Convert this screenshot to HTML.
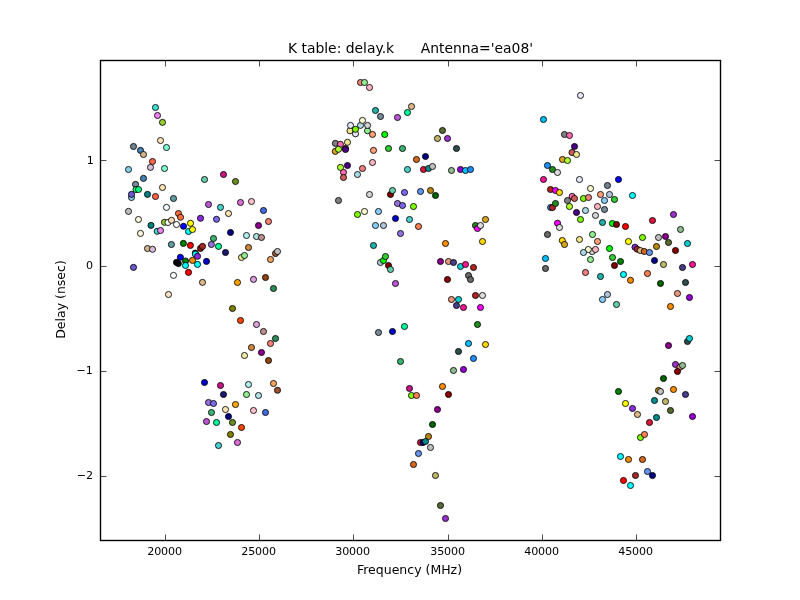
<!DOCTYPE html><html><head><meta charset="utf-8"><title>K table</title><style>html,body{margin:0;padding:0;background:#fff}svg{display:block}text{font-family:"DejaVu Sans","Liberation Sans",sans-serif;fill:#000}</style></head><body>
<svg width="800" height="600" viewBox="0 0 800 600">
<rect x="0" y="0" width="800" height="600" fill="#fff"/>
<g stroke="#000" stroke-width="0.85">
<circle cx="155.5" cy="107.5" r="3.05" fill="#40E0D0"/>
<circle cx="157.5" cy="115.5" r="3.05" fill="#EE82EE"/>
<circle cx="162.5" cy="122.4" r="3.05" fill="#9ACD32"/>
<circle cx="160.5" cy="140.5" r="3.05" fill="#FFE4B5"/>
<circle cx="166.5" cy="147.5" r="3.05" fill="#7FFFD4"/>
<circle cx="133.5" cy="146.5" r="3.05" fill="#708090"/>
<circle cx="140.5" cy="150.4" r="3.05" fill="#4682B4"/>
<circle cx="143.5" cy="154.5" r="3.05" fill="#D2B48C"/>
<circle cx="152.5" cy="161.5" r="3.05" fill="#FF6347"/>
<circle cx="128.5" cy="169.5" r="3.05" fill="#87CEEB"/>
<circle cx="150.5" cy="167.4" r="3.05" fill="#D8BFD8"/>
<circle cx="164.5" cy="168.5" r="3.05" fill="#7FFFD4"/>
<circle cx="143.5" cy="178.4" r="3.05" fill="#4682B4"/>
<circle cx="135.5" cy="184.4" r="3.05" fill="#778899"/>
<circle cx="136.0" cy="189.5" r="3.05" fill="#00FF7F"/>
<circle cx="138.5" cy="189.5" r="3.05" fill="#00FF7F"/>
<circle cx="162.5" cy="187.5" r="3.05" fill="#FFE4B5"/>
<circle cx="147.5" cy="194.4" r="3.05" fill="#008080"/>
<circle cx="131.5" cy="197.5" r="3.05" fill="#87CEEB"/>
<circle cx="131.5" cy="194.4" r="3.05" fill="#6A5ACD"/>
<circle cx="155.5" cy="196.5" r="3.05" fill="#FF6347"/>
<circle cx="173.5" cy="198.5" r="3.05" fill="#5F9EA0"/>
<circle cx="166.5" cy="207.4" r="3.05" fill="#F0FFFF"/>
<circle cx="204.5" cy="179.5" r="3.05" fill="#66CDAA"/>
<circle cx="223.5" cy="174.5" r="3.05" fill="#C71585"/>
<circle cx="235.5" cy="181.5" r="3.05" fill="#6B8E23"/>
<circle cx="208.5" cy="204.5" r="3.05" fill="#BA55D3"/>
<circle cx="220.5" cy="207.4" r="3.05" fill="#48D1CC"/>
<circle cx="240.5" cy="202.5" r="3.05" fill="#DA70D6"/>
<circle cx="251.5" cy="201.5" r="3.05" fill="#FFC0CB"/>
<circle cx="128.5" cy="211.4" r="3.05" fill="#C0C0C0"/>
<circle cx="138.5" cy="219.5" r="3.05" fill="#FFF8DC"/>
<circle cx="140.5" cy="233.4" r="3.05" fill="#FFF8DC"/>
<circle cx="151.0" cy="225.4" r="3.05" fill="#008080"/>
<circle cx="178.5" cy="213.5" r="3.05" fill="#FF7040"/>
<circle cx="180.5" cy="217.3" r="3.05" fill="#FF7040"/>
<circle cx="164.5" cy="222.3" r="3.05" fill="#9ACD32"/>
<circle cx="168.0" cy="222.5" r="3.05" fill="#F0FFFF"/>
<circle cx="171.5" cy="220.3" r="3.05" fill="#FFDAB9"/>
<circle cx="176.5" cy="224.5" r="3.05" fill="#FFFFFF"/>
<circle cx="183.5" cy="226.3" r="3.05" fill="#0000FF"/>
<circle cx="190.5" cy="223.3" r="3.05" fill="#FFFF00"/>
<circle cx="188.5" cy="231.5" r="3.05" fill="#00FFFF"/>
<circle cx="192.5" cy="229.5" r="3.05" fill="#FFFF00"/>
<circle cx="157.2" cy="231.3" r="3.05" fill="#40E0D0"/>
<circle cx="160.5" cy="230.5" r="3.05" fill="#EE82EE"/>
<circle cx="200.5" cy="218.3" r="3.05" fill="#8A2BE2"/>
<circle cx="216.5" cy="219.3" r="3.05" fill="#7B68EE"/>
<circle cx="228.5" cy="213.5" r="3.05" fill="#FFE4B5"/>
<circle cx="258.5" cy="225.5" r="3.05" fill="#8B008B"/>
<circle cx="230.5" cy="232.5" r="3.05" fill="#000080"/>
<circle cx="246.5" cy="235.5" r="3.05" fill="#AFEEEE"/>
<circle cx="256.5" cy="236.5" r="3.05" fill="#B0E0E6"/>
<circle cx="213.5" cy="238.5" r="3.05" fill="#3CB371"/>
<circle cx="211.4" cy="244.5" r="3.05" fill="#9370DB"/>
<circle cx="218.5" cy="246.4" r="3.05" fill="#00FA9A"/>
<circle cx="225.5" cy="252.5" r="3.05" fill="#191970"/>
<circle cx="248.5" cy="247.5" r="3.05" fill="#CD853F"/>
<circle cx="241.5" cy="257.5" r="3.05" fill="#F0E68C"/>
<circle cx="244.5" cy="255.5" r="3.05" fill="#90EE90"/>
<circle cx="171.4" cy="244.5" r="3.05" fill="#5F9EA0"/>
<circle cx="183.4" cy="243.4" r="3.05" fill="#008000"/>
<circle cx="190.4" cy="245.4" r="3.05" fill="#FF0000"/>
<circle cx="200.5" cy="248.4" r="3.05" fill="#8B1A1A"/>
<circle cx="202.5" cy="246.4" r="3.05" fill="#A52A2A"/>
<circle cx="147.5" cy="248.5" r="3.05" fill="#D2B48C"/>
<circle cx="152.5" cy="249.3" r="3.05" fill="#D8BFD8"/>
<circle cx="195.3" cy="253.1" r="3.05" fill="#3B2500"/>
<circle cx="195.4" cy="254.1" r="3.05" fill="#00FFFF"/>
<circle cx="197.5" cy="256.3" r="3.05" fill="#8A2BE2"/>
<circle cx="180.4" cy="257.3" r="3.05" fill="#0000FF"/>
<circle cx="185.5" cy="261.0" r="3.05" fill="#008000"/>
<circle cx="192.5" cy="260.4" r="3.05" fill="#FF8C00"/>
<circle cx="176.5" cy="262.4" r="3.05" fill="#000000"/>
<circle cx="178.4" cy="263.6" r="3.05" fill="#000000"/>
<circle cx="185.5" cy="265.5" r="3.05" fill="#00FFFF"/>
<circle cx="197.5" cy="264.4" r="3.05" fill="#00FFFF"/>
<circle cx="206.5" cy="261.4" r="3.05" fill="#0000CD"/>
<circle cx="188.5" cy="272.4" r="3.05" fill="#FF0000"/>
<circle cx="173.5" cy="275.4" r="3.05" fill="#FFFFFF"/>
<circle cx="202.5" cy="282.4" r="3.05" fill="#DEB887"/>
<circle cx="133.5" cy="267.4" r="3.05" fill="#6A5ACD"/>
<circle cx="168.5" cy="294.5" r="3.05" fill="#FFE4C4"/>
<circle cx="237.5" cy="282.5" r="3.05" fill="#FFA500"/>
<circle cx="253.5" cy="279.4" r="3.05" fill="#DDA0DD"/>
<circle cx="232.5" cy="308.5" r="3.05" fill="#808000"/>
<circle cx="263.5" cy="210.5" r="3.05" fill="#4169E1"/>
<circle cx="268.5" cy="221.5" r="3.05" fill="#FA8072"/>
<circle cx="261.5" cy="237.5" r="3.05" fill="#BC8F8F"/>
<circle cx="275.5" cy="253.5" r="3.05" fill="#A0522D"/>
<circle cx="277.5" cy="251.5" r="3.05" fill="#C0C0C0"/>
<circle cx="270.5" cy="259.5" r="3.05" fill="#F4A460"/>
<circle cx="265.5" cy="277.5" r="3.05" fill="#8B4513"/>
<circle cx="338.5" cy="200.5" r="3.05" fill="#808080"/>
<circle cx="343.5" cy="172.4" r="3.05" fill="#FF69B4"/>
<circle cx="340.5" cy="167.4" r="3.05" fill="#ADFF2F"/>
<circle cx="347.5" cy="165.5" r="3.05" fill="#4B0082"/>
<circle cx="343.5" cy="177.5" r="3.05" fill="#CD5C5C"/>
<circle cx="273.5" cy="288.5" r="3.05" fill="#2E8B57"/>
<circle cx="240.5" cy="320.5" r="3.05" fill="#FF4500"/>
<circle cx="256.5" cy="324.5" r="3.05" fill="#DDA0DD"/>
<circle cx="263.5" cy="331.5" r="3.05" fill="#BC8F8F"/>
<circle cx="275.5" cy="338.5" r="3.05" fill="#2E8B57"/>
<circle cx="270.5" cy="343.5" r="3.05" fill="#FA8072"/>
<circle cx="251.5" cy="347.5" r="3.05" fill="#CD853F"/>
<circle cx="261.5" cy="352.5" r="3.05" fill="#8B008B"/>
<circle cx="244.5" cy="355.5" r="3.05" fill="#EEE8AA"/>
<circle cx="268.5" cy="360.5" r="3.05" fill="#8B4513"/>
<circle cx="204.5" cy="382.5" r="3.05" fill="#0000CD"/>
<circle cx="220.5" cy="385.5" r="3.05" fill="#C71585"/>
<circle cx="248.5" cy="384.5" r="3.05" fill="#AFEEEE"/>
<circle cx="273.5" cy="383.5" r="3.05" fill="#F4A460"/>
<circle cx="277.5" cy="390.3" r="3.05" fill="#A0522D"/>
<circle cx="223.5" cy="394.5" r="3.05" fill="#191970"/>
<circle cx="246.5" cy="394.5" r="3.05" fill="#90EE90"/>
<circle cx="258.5" cy="395.5" r="3.05" fill="#B0E0E6"/>
<circle cx="208.5" cy="402.5" r="3.05" fill="#9370DB"/>
<circle cx="213.5" cy="403.5" r="3.05" fill="#7B68EE"/>
<circle cx="235.5" cy="404.5" r="3.05" fill="#FFA500"/>
<circle cx="225.5" cy="409.5" r="3.05" fill="#FFE4B5"/>
<circle cx="253.5" cy="410.5" r="3.05" fill="#FFC0CB"/>
<circle cx="265.5" cy="412.5" r="3.05" fill="#4169E1"/>
<circle cx="211.5" cy="412.5" r="3.05" fill="#3CB371"/>
<circle cx="228.5" cy="416.5" r="3.05" fill="#000080"/>
<circle cx="206.5" cy="421.5" r="3.05" fill="#BA55D3"/>
<circle cx="216.5" cy="422.5" r="3.05" fill="#00FA9A"/>
<circle cx="232.5" cy="422.5" r="3.05" fill="#6B8E23"/>
<circle cx="241.5" cy="427.5" r="3.05" fill="#FF4500"/>
<circle cx="230.5" cy="434.5" r="3.05" fill="#808000"/>
<circle cx="237.5" cy="442.5" r="3.05" fill="#DA70D6"/>
<circle cx="218.5" cy="445.5" r="3.05" fill="#48D1CC"/>
<circle cx="360.5" cy="82.5" r="3.05" fill="#F08080"/>
<circle cx="364.5" cy="82.5" r="3.05" fill="#90EE90"/>
<circle cx="369.5" cy="87.5" r="3.05" fill="#FFB6C1"/>
<circle cx="411.5" cy="106.5" r="3.05" fill="#DEB887"/>
<circle cx="407.5" cy="112.5" r="3.05" fill="#00FA9A"/>
<circle cx="375.5" cy="110.5" r="3.05" fill="#20B2AA"/>
<circle cx="380.5" cy="116.5" r="3.05" fill="#778899"/>
<circle cx="397.5" cy="117.5" r="3.05" fill="#BA55D3"/>
<circle cx="384.7" cy="134.5" r="3.05" fill="#00FF00"/>
<circle cx="388.5" cy="148.5" r="3.05" fill="#32CD32"/>
<circle cx="402.5" cy="148.5" r="3.05" fill="#3CB371"/>
<circle cx="373.5" cy="150.4" r="3.05" fill="#FFA07A"/>
<circle cx="372.5" cy="162.5" r="3.05" fill="#FFB6C1"/>
<circle cx="362.5" cy="168.5" r="3.05" fill="#F08080"/>
<circle cx="357.5" cy="174.5" r="3.05" fill="#ADD8E6"/>
<circle cx="442.5" cy="130.5" r="3.05" fill="#556B2F"/>
<circle cx="437.5" cy="138.5" r="3.05" fill="#BDB76B"/>
<circle cx="447.5" cy="138.5" r="3.05" fill="#9932CC"/>
<circle cx="456.5" cy="148.5" r="3.05" fill="#2F4F4F"/>
<circle cx="425.5" cy="156.5" r="3.05" fill="#000080"/>
<circle cx="416.5" cy="159.5" r="3.05" fill="#D2691E"/>
<circle cx="407.5" cy="169.5" r="3.05" fill="#48D1CC"/>
<circle cx="423.5" cy="169.5" r="3.05" fill="#DC143C"/>
<circle cx="428.5" cy="168.5" r="3.05" fill="#008B8B"/>
<circle cx="432.5" cy="166.5" r="3.05" fill="#C0C0C0"/>
<circle cx="451.5" cy="170.5" r="3.05" fill="#8FBC8F"/>
<circle cx="460.5" cy="169.5" r="3.05" fill="#9400D3"/>
<circle cx="465.5" cy="170.5" r="3.05" fill="#00BFFF"/>
<circle cx="470.5" cy="169.5" r="3.05" fill="#1E90FF"/>
<circle cx="360.5" cy="125.4" r="3.05" fill="#ADD8E6"/>
<circle cx="362.5" cy="120.4" r="3.05" fill="#FAFAD2"/>
<circle cx="350.0" cy="130.8" r="3.05" fill="#F0E68C"/>
<circle cx="350.5" cy="125.4" r="3.05" fill="#E6E6FA"/>
<circle cx="367.5" cy="130.8" r="3.05" fill="#90EE90"/>
<circle cx="367.6" cy="125.4" r="3.05" fill="#D3D3D3"/>
<circle cx="355.5" cy="133.8" r="3.05" fill="#E6E6FA"/>
<circle cx="355.5" cy="129.3" r="3.05" fill="#7CFC00"/>
<circle cx="372.5" cy="134.4" r="3.05" fill="#FFA07A"/>
<circle cx="335.4" cy="143.4" r="3.05" fill="#808080"/>
<circle cx="340.4" cy="144.3" r="3.05" fill="#FF69B4"/>
<circle cx="347.5" cy="142.3" r="3.05" fill="#F0E68C"/>
<circle cx="345.5" cy="148.4" r="3.05" fill="#CD5C5C"/>
<circle cx="345.5" cy="149.5" r="3.05" fill="#4B0082"/>
<circle cx="335.3" cy="151.4" r="3.05" fill="#DAA520"/>
<circle cx="338.5" cy="149.3" r="3.05" fill="#ADFF2F"/>
<circle cx="369.5" cy="194.5" r="3.05" fill="#D3D3D3"/>
<circle cx="390.5" cy="194.5" r="3.05" fill="#800000"/>
<circle cx="392.5" cy="190.5" r="3.05" fill="#66CDAA"/>
<circle cx="404.5" cy="192.5" r="3.05" fill="#7B68EE"/>
<circle cx="420.5" cy="191.5" r="3.05" fill="#6495ED"/>
<circle cx="430.5" cy="190.5" r="3.05" fill="#B8860B"/>
<circle cx="435.5" cy="195.5" r="3.05" fill="#006400"/>
<circle cx="397.5" cy="203.5" r="3.05" fill="#9370DB"/>
<circle cx="402.5" cy="205.5" r="3.05" fill="#7B68EE"/>
<circle cx="413.5" cy="206.5" r="3.05" fill="#7FFF00"/>
<circle cx="357.5" cy="214.5" r="3.05" fill="#7CFC00"/>
<circle cx="364.5" cy="211.5" r="3.05" fill="#FAFAD2"/>
<circle cx="378.5" cy="211.5" r="3.05" fill="#87CEFA"/>
<circle cx="395.5" cy="218.5" r="3.05" fill="#0000CD"/>
<circle cx="409.5" cy="219.5" r="3.05" fill="#48D1CC"/>
<circle cx="418.5" cy="226.5" r="3.05" fill="#FF7F50"/>
<circle cx="375.5" cy="225.5" r="3.05" fill="#87CEFA"/>
<circle cx="383.5" cy="225.5" r="3.05" fill="#B0C4DE"/>
<circle cx="400.5" cy="233.5" r="3.05" fill="#9370DB"/>
<circle cx="373.5" cy="245.5" r="3.05" fill="#20B2AA"/>
<circle cx="445.5" cy="243.5" r="3.05" fill="#FF8C00"/>
<circle cx="380.5" cy="262.5" r="3.05" fill="#B0C4DE"/>
<circle cx="383.5" cy="260.5" r="3.05" fill="#00FF00"/>
<circle cx="385.5" cy="256.5" r="3.05" fill="#32CD32"/>
<circle cx="388.5" cy="265.5" r="3.05" fill="#800000"/>
<circle cx="390.5" cy="269.5" r="3.05" fill="#66CDAA"/>
<circle cx="440.5" cy="261.5" r="3.05" fill="#8B008B"/>
<circle cx="448.5" cy="261.5" r="3.05" fill="#E9967A"/>
<circle cx="453.5" cy="262.5" r="3.05" fill="#483D8B"/>
<circle cx="460.5" cy="266.5" r="3.05" fill="#00CED1"/>
<circle cx="465.5" cy="264.5" r="3.05" fill="#FF1493"/>
<circle cx="473.5" cy="267.5" r="3.05" fill="#B22222"/>
<circle cx="482.5" cy="241.5" r="3.05" fill="#FFD700"/>
<circle cx="395.5" cy="283.5" r="3.05" fill="#BA55D3"/>
<circle cx="447.5" cy="279.5" r="3.05" fill="#8B0000"/>
<circle cx="468.5" cy="275.5" r="3.05" fill="#696969"/>
<circle cx="470.5" cy="279.5" r="3.05" fill="#696969"/>
<circle cx="475.5" cy="295.5" r="3.05" fill="#B22222"/>
<circle cx="482.5" cy="295.5" r="3.05" fill="#DCDCDC"/>
<circle cx="451.5" cy="299.5" r="3.05" fill="#E9967A"/>
<circle cx="458.5" cy="299.5" r="3.05" fill="#00CED1"/>
<circle cx="456.5" cy="305.5" r="3.05" fill="#483D8B"/>
<circle cx="463.5" cy="307.5" r="3.05" fill="#FF1493"/>
<circle cx="480.5" cy="307.5" r="3.05" fill="#FF00FF"/>
<circle cx="477.5" cy="324.5" r="3.05" fill="#228B22"/>
<circle cx="404.5" cy="326.5" r="3.05" fill="#00FA9A"/>
<circle cx="392.5" cy="331.5" r="3.05" fill="#0000CD"/>
<circle cx="378.5" cy="332.5" r="3.05" fill="#778899"/>
<circle cx="468.5" cy="343.5" r="3.05" fill="#00BFFF"/>
<circle cx="485.5" cy="344.5" r="3.05" fill="#FFD700"/>
<circle cx="458.5" cy="351.5" r="3.05" fill="#2F4F4F"/>
<circle cx="473.5" cy="358.5" r="3.05" fill="#1E90FF"/>
<circle cx="400.5" cy="361.5" r="3.05" fill="#3CB371"/>
<circle cx="485.5" cy="219.5" r="3.05" fill="#DAA520"/>
<circle cx="475.5" cy="225.5" r="3.05" fill="#228B22"/>
<circle cx="477.5" cy="228.5" r="3.05" fill="#FF00FF"/>
<circle cx="480.5" cy="225.5" r="3.05" fill="#DCDCDC"/>
<circle cx="453.5" cy="370.5" r="3.05" fill="#8FBC8F"/>
<circle cx="463.5" cy="369.5" r="3.05" fill="#9400D3"/>
<circle cx="409.5" cy="388.5" r="3.05" fill="#C71585"/>
<circle cx="411.5" cy="395.5" r="3.05" fill="#7FFF00"/>
<circle cx="416.5" cy="395.5" r="3.05" fill="#FF7F50"/>
<circle cx="442.5" cy="386.5" r="3.05" fill="#FF8C00"/>
<circle cx="448.5" cy="394.5" r="3.05" fill="#8B0000"/>
<circle cx="437.5" cy="409.5" r="3.05" fill="#8B008B"/>
<circle cx="432.5" cy="424.5" r="3.05" fill="#006400"/>
<circle cx="428.5" cy="436.5" r="3.05" fill="#B8860B"/>
<circle cx="420.5" cy="442.5" r="3.05" fill="#DC143C"/>
<circle cx="423.0" cy="442.5" r="3.05" fill="#000080"/>
<circle cx="425.5" cy="441.5" r="3.05" fill="#008B8B"/>
<circle cx="430.5" cy="447.5" r="3.05" fill="#C0C0C0"/>
<circle cx="418.5" cy="453.5" r="3.05" fill="#6495ED"/>
<circle cx="413.5" cy="464.5" r="3.05" fill="#D2691E"/>
<circle cx="435.5" cy="475.5" r="3.05" fill="#BDB76B"/>
<circle cx="440.5" cy="505.5" r="3.05" fill="#556B2F"/>
<circle cx="445.5" cy="518.5" r="3.05" fill="#9932CC"/>
<circle cx="580.5" cy="95.5" r="3.05" fill="#E6E6FA"/>
<circle cx="543.5" cy="119.5" r="3.05" fill="#00BFFF"/>
<circle cx="564.5" cy="134.5" r="3.05" fill="#808080"/>
<circle cx="569.5" cy="135.5" r="3.05" fill="#FF69B4"/>
<circle cx="574.5" cy="146.5" r="3.05" fill="#4B0082"/>
<circle cx="572.0" cy="152.5" r="3.05" fill="#CD5C5C"/>
<circle cx="576.5" cy="154.5" r="3.05" fill="#F0E68C"/>
<circle cx="562.5" cy="159.5" r="3.05" fill="#DAA520"/>
<circle cx="567.5" cy="160.5" r="3.05" fill="#ADFF2F"/>
<circle cx="547.5" cy="165.5" r="3.05" fill="#1E90FF"/>
<circle cx="552.5" cy="169.5" r="3.05" fill="#228B22"/>
<circle cx="557.5" cy="172.5" r="3.05" fill="#DCDCDC"/>
<circle cx="543.5" cy="179.5" r="3.05" fill="#FF1493"/>
<circle cx="579.5" cy="179.5" r="3.05" fill="#E6E6FA"/>
<circle cx="618.5" cy="179.5" r="3.05" fill="#0000FF"/>
<circle cx="607.5" cy="185.5" r="3.05" fill="#708090"/>
<circle cx="590.5" cy="188.5" r="3.05" fill="#FAFAD2"/>
<circle cx="550.5" cy="189.5" r="3.05" fill="#B22222"/>
<circle cx="555.5" cy="190.5" r="3.05" fill="#FF00FF"/>
<circle cx="559.5" cy="192.5" r="3.05" fill="#FFD700"/>
<circle cx="632.5" cy="195.5" r="3.05" fill="#00FFFF"/>
<circle cx="600.5" cy="194.5" r="3.05" fill="#FFA07A"/>
<circle cx="609.5" cy="194.5" r="3.05" fill="#B0C4DE"/>
<circle cx="572.2" cy="196.4" r="3.05" fill="#FF69B4"/>
<circle cx="574.5" cy="198.5" r="3.05" fill="#CD5C5C"/>
<circle cx="567.5" cy="200.5" r="3.05" fill="#808080"/>
<circle cx="583.5" cy="198.5" r="3.05" fill="#7CFC00"/>
<circle cx="588.5" cy="197.5" r="3.05" fill="#F08080"/>
<circle cx="604.5" cy="200.5" r="3.05" fill="#87CEFA"/>
<circle cx="614.5" cy="199.5" r="3.05" fill="#32CD32"/>
<circle cx="550.6" cy="207.5" r="3.05" fill="#1E90FF"/>
<circle cx="552.5" cy="207.5" r="3.05" fill="#B22222"/>
<circle cx="555.5" cy="203.5" r="3.05" fill="#228B22"/>
<circle cx="569.5" cy="206.5" r="3.05" fill="#ADFF2F"/>
<circle cx="576.5" cy="212.5" r="3.05" fill="#4B0082"/>
<circle cx="585.5" cy="210.5" r="3.05" fill="#ADD8E6"/>
<circle cx="597.5" cy="206.5" r="3.05" fill="#FFB6C1"/>
<circle cx="604.5" cy="209.5" r="3.05" fill="#778899"/>
<circle cx="595.5" cy="215.5" r="3.05" fill="#D3D3D3"/>
<circle cx="580.5" cy="219.5" r="3.05" fill="#7CFC00"/>
<circle cx="602.5" cy="222.5" r="3.05" fill="#20B2AA"/>
<circle cx="612.4" cy="223.5" r="3.05" fill="#00FF00"/>
<circle cx="616.5" cy="224.5" r="3.05" fill="#800000"/>
<circle cx="557.5" cy="223.2" r="3.05" fill="#FF00FF"/>
<circle cx="559.5" cy="227.5" r="3.05" fill="#DCDCDC"/>
<circle cx="547.5" cy="234.5" r="3.05" fill="#696969"/>
<circle cx="592.5" cy="234.5" r="3.05" fill="#90EE90"/>
<circle cx="562.3" cy="240.5" r="3.05" fill="#FFD700"/>
<circle cx="564.5" cy="244.5" r="3.05" fill="#DAA520"/>
<circle cx="579.5" cy="239.5" r="3.05" fill="#F0E68C"/>
<circle cx="597.5" cy="241.5" r="3.05" fill="#FFA07A"/>
<circle cx="592.3" cy="251.6" r="3.05" fill="#D3D3D3"/>
<circle cx="588.3" cy="249.5" r="3.05" fill="#FAFAD2"/>
<circle cx="583.5" cy="252.5" r="3.05" fill="#ADD8E6"/>
<circle cx="595.5" cy="249.5" r="3.05" fill="#FFB6C1"/>
<circle cx="609.5" cy="248.5" r="3.05" fill="#00FF00"/>
<circle cx="590.5" cy="259.5" r="3.05" fill="#90EE90"/>
<circle cx="612.5" cy="257.5" r="3.05" fill="#32CD32"/>
<circle cx="614.5" cy="265.5" r="3.05" fill="#800000"/>
<circle cx="545.5" cy="258.5" r="3.05" fill="#00BFFF"/>
<circle cx="545.5" cy="268.5" r="3.05" fill="#696969"/>
<circle cx="585.5" cy="272.5" r="3.05" fill="#F08080"/>
<circle cx="600.5" cy="276.5" r="3.05" fill="#20B2AA"/>
<circle cx="625.5" cy="226.5" r="3.05" fill="#FF0000"/>
<circle cx="652.5" cy="220.5" r="3.05" fill="#DC143C"/>
<circle cx="673.5" cy="214.5" r="3.05" fill="#9932CC"/>
<circle cx="680.5" cy="229.5" r="3.05" fill="#8FBC8F"/>
<circle cx="642.5" cy="237.5" r="3.05" fill="#7FFF00"/>
<circle cx="628.5" cy="241.5" r="3.05" fill="#FFFF00"/>
<circle cx="658.5" cy="237.5" r="3.05" fill="#C0C0C0"/>
<circle cx="665.5" cy="236.5" r="3.05" fill="#8B008B"/>
<circle cx="668.5" cy="242.5" r="3.05" fill="#556B2F"/>
<circle cx="656.5" cy="246.5" r="3.05" fill="#B8860B"/>
<circle cx="675.5" cy="250.5" r="3.05" fill="#8B0000"/>
<circle cx="635.0" cy="247.2" r="3.05" fill="#8A2BE2"/>
<circle cx="637.2" cy="249.2" r="3.05" fill="#A52A2A"/>
<circle cx="640.3" cy="250.5" r="3.05" fill="#DEB887"/>
<circle cx="644.3" cy="251.5" r="3.05" fill="#D2691E"/>
<circle cx="649.5" cy="252.5" r="3.05" fill="#6495ED"/>
<circle cx="620.5" cy="261.5" r="3.05" fill="#008000"/>
<circle cx="654.5" cy="260.5" r="3.05" fill="#00008B"/>
<circle cx="663.5" cy="264.5" r="3.05" fill="#BDB76B"/>
<circle cx="623.5" cy="274.5" r="3.05" fill="#00FFFF"/>
<circle cx="647.5" cy="273.5" r="3.05" fill="#FF7F50"/>
<circle cx="630.5" cy="280.3" r="3.05" fill="#FF8C00"/>
<circle cx="687.5" cy="243.5" r="3.05" fill="#00CED1"/>
<circle cx="682.5" cy="267.5" r="3.05" fill="#483D8B"/>
<circle cx="692.5" cy="264.5" r="3.05" fill="#FF1493"/>
<circle cx="660.5" cy="283.5" r="3.05" fill="#006400"/>
<circle cx="685.5" cy="282.5" r="3.05" fill="#2F4F4F"/>
<circle cx="677.5" cy="293.5" r="3.05" fill="#E9967A"/>
<circle cx="689.5" cy="297.5" r="3.05" fill="#9400D3"/>
<circle cx="670.5" cy="306.5" r="3.05" fill="#FF8C00"/>
<circle cx="607.5" cy="294.5" r="3.05" fill="#B0C4DE"/>
<circle cx="602.5" cy="299.5" r="3.05" fill="#87CEFA"/>
<circle cx="616.5" cy="304.5" r="3.05" fill="#66CDAA"/>
<circle cx="687.5" cy="341.5" r="3.05" fill="#2F4F4F"/>
<circle cx="689.5" cy="338.5" r="3.05" fill="#00CED1"/>
<circle cx="668.5" cy="345.5" r="3.05" fill="#8B008B"/>
<circle cx="675.5" cy="364.5" r="3.05" fill="#9932CC"/>
<circle cx="680.0" cy="367.2" r="3.05" fill="#E9967A"/>
<circle cx="682.5" cy="365.5" r="3.05" fill="#8FBC8F"/>
<circle cx="677.5" cy="371.5" r="3.05" fill="#8B0000"/>
<circle cx="663.5" cy="378.5" r="3.05" fill="#006400"/>
<circle cx="618.5" cy="391.5" r="3.05" fill="#008000"/>
<circle cx="658.5" cy="390.5" r="3.05" fill="#B8860B"/>
<circle cx="660.5" cy="391.5" r="3.05" fill="#C0C0C0"/>
<circle cx="673.5" cy="389.5" r="3.05" fill="#FF8C00"/>
<circle cx="685.5" cy="394.5" r="3.05" fill="#483D8B"/>
<circle cx="654.5" cy="400.5" r="3.05" fill="#008B8B"/>
<circle cx="665.5" cy="401.5" r="3.05" fill="#BDB76B"/>
<circle cx="670.5" cy="410.5" r="3.05" fill="#556B2F"/>
<circle cx="692.5" cy="416.5" r="3.05" fill="#9400D3"/>
<circle cx="625.5" cy="403.5" r="3.05" fill="#FFFF00"/>
<circle cx="632.5" cy="408.5" r="3.05" fill="#8A2BE2"/>
<circle cx="637.5" cy="414.5" r="3.05" fill="#DEB887"/>
<circle cx="656.5" cy="417.5" r="3.05" fill="#008B8B"/>
<circle cx="649.5" cy="422.5" r="3.05" fill="#DC143C"/>
<circle cx="640.5" cy="437.5" r="3.05" fill="#7FFF00"/>
<circle cx="644.5" cy="434.5" r="3.05" fill="#FF7F50"/>
<circle cx="620.5" cy="456.5" r="3.05" fill="#00FFFF"/>
<circle cx="628.5" cy="459.5" r="3.05" fill="#FF8C00"/>
<circle cx="642.5" cy="459.5" r="3.05" fill="#D2691E"/>
<circle cx="635.5" cy="475.5" r="3.05" fill="#A52A2A"/>
<circle cx="647.5" cy="471.5" r="3.05" fill="#6495ED"/>
<circle cx="652.5" cy="475.5" r="3.05" fill="#00008B"/>
<circle cx="623.5" cy="480.5" r="3.05" fill="#FF0000"/>
<circle cx="630.5" cy="485.5" r="3.05" fill="#00FFFF"/>
</g>
<rect x="100.5" y="60.5" width="620" height="480" fill="none" stroke="#000" stroke-width="1.39" stroke-linecap="square"/>
<g stroke="#000" stroke-width="0.7">
<line x1="165.5" y1="540" x2="165.5" y2="534.5"/>
<line x1="165.5" y1="61" x2="165.5" y2="66.5"/>
<line x1="259.5" y1="540" x2="259.5" y2="534.5"/>
<line x1="259.5" y1="61" x2="259.5" y2="66.5"/>
<line x1="353.5" y1="540" x2="353.5" y2="534.5"/>
<line x1="353.5" y1="61" x2="353.5" y2="66.5"/>
<line x1="448.5" y1="540" x2="448.5" y2="534.5"/>
<line x1="448.5" y1="61" x2="448.5" y2="66.5"/>
<line x1="542.5" y1="540" x2="542.5" y2="534.5"/>
<line x1="542.5" y1="61" x2="542.5" y2="66.5"/>
<line x1="636.5" y1="540" x2="636.5" y2="534.5"/>
<line x1="636.5" y1="61" x2="636.5" y2="66.5"/>
<line x1="101" y1="160.5" x2="106.5" y2="160.5"/>
<line x1="720" y1="160.5" x2="714.5" y2="160.5"/>
<line x1="101" y1="266.5" x2="106.5" y2="266.5"/>
<line x1="720" y1="266.5" x2="714.5" y2="266.5"/>
<line x1="101" y1="371.5" x2="106.5" y2="371.5"/>
<line x1="720" y1="371.5" x2="714.5" y2="371.5"/>
<line x1="101" y1="476.5" x2="106.5" y2="476.5"/>
<line x1="720" y1="476.5" x2="714.5" y2="476.5"/>
</g>
<g font-size="11.1" text-anchor="middle" letter-spacing="-0.12">
<text x="164.6" y="555">20000</text>
<text x="258.6" y="555">25000</text>
<text x="352.6" y="555">30000</text>
<text x="447.6" y="555">35000</text>
<text x="541.6" y="555">40000</text>
<text x="635.6" y="555">45000</text>
</g>
<g font-size="11.1" text-anchor="end">
<text x="93.8" y="164.0">1</text>
<text x="93.1" y="269.0">0</text>
<text x="92.8" y="374.0">−1</text>
<text x="93.1" y="479.0">−2</text>
</g>
<text x="410.5" y="52.5" font-size="13.9" text-anchor="middle" xml:space="preserve">K table: delay.k      Antenna='ea08'</text>
<text x="409.5" y="573.5" font-size="12.5" text-anchor="middle">Frequency (MHz)</text>
<text transform="translate(64.5,299.5) rotate(-90)" font-size="12.5" text-anchor="middle">Delay (nsec)</text>
</svg></body></html>
